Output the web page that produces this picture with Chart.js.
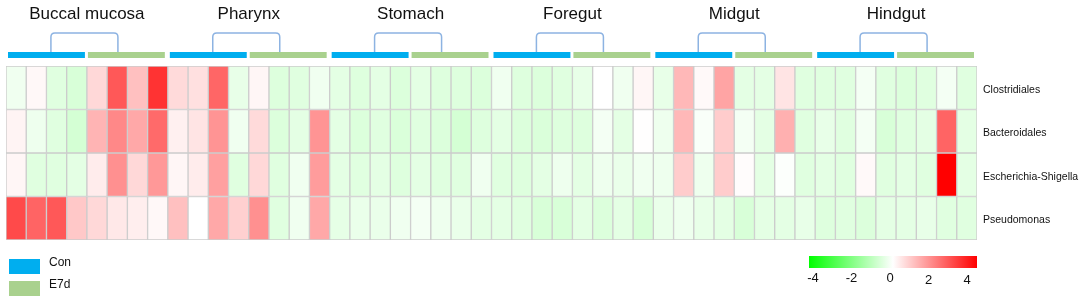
<!DOCTYPE html>
<html>
<head>
<meta charset="utf-8">
<script src="https://cdn.jsdelivr.net/npm/chart.js@4"></script>
<style>
  html, body { margin: 0; padding: 0; background: #fff; }
  #wrap { width: 1084px; height: 301px; }
</style>
</head>
<body>
<div id="wrap"><canvas id="heat"></canvas></div>
<script>
// sites, groups and taxa
const sites = ["Buccal mucosa", "Pharynx", "Stomach", "Foregut", "Midgut", "Hindgut"];
const groups = ["Con", "E7d"];
const reps = 4;
const taxa = ["Clostridiales", "Bacteroidales", "Escherichia-Shigella", "Pseudomonas"];

// z-scores, 48 columns each (6 sites x 2 groups x 4 samples)
const clostridiales = [
  -0.24, 0.11, -0.49, -0.61, 0.61, 2.62, 0.99, 3.2,
  0.58, 0.49, 2.4, -0.36, 0.14, -0.53, -0.49, -0.24,
  -0.42, -0.52, -0.42, -0.55, -0.42, -0.52, -0.52, -0.55,
  -0.24, -0.52, -0.55, -0.49, -0.36, 0.0, -0.24, 0.14,
  -0.36, 1.11, 0.1, 1.43, -0.42, -0.42, 0.42, -0.49,
  -0.49, -0.49, -0.17, -0.49, -0.55, -0.49, -0.17, -0.49
];
const bacteroidales = [
  0.17, -0.27, -0.49, -0.67, 1.18, 1.87, 1.36, 2.34,
  0.24, 0.42, 1.68, -0.24, 0.58, -0.55, -0.42, 1.68,
  -0.42, -0.55, -0.49, -0.58, -0.49, -0.55, -0.67, -0.52,
  -0.42, -0.55, -0.58, -0.52, -0.52, -0.17, -0.42, 0.02,
  -0.27, 1.11, -0.1, 0.8, -0.17, -0.42, 1.24, -0.49,
  -0.36, -0.49, -0.17, -0.61, -0.49, -0.42, 2.43, -0.42
];
const escherichia = [
  0.14, -0.49, -0.49, -0.42, 0.3, 1.74, 0.61, 1.62,
  0.14, 0.3, 1.49, -0.49, 0.61, -0.49, -0.24, 1.55,
  -0.42, -0.49, -0.42, -0.52, -0.42, -0.49, -0.49, -0.24,
  -0.49, -0.52, -0.42, -0.27, -0.42, -0.27, -0.33, -0.24,
  -0.27, 0.8, -0.27, 0.8, 0.05, -0.42, -0.05, -0.49,
  -0.42, -0.49, 0.1, -0.49, -0.42, -0.49, 4.0, -0.42
];
const pseudomonas = [
  2.84, 2.43, 2.62, 0.86, 0.61, 0.36, 0.27, 0.11,
  0.99, 0.0, 1.36, 0.74, 1.74, -0.49, -0.24, 1.36,
  -0.4, -0.33, -0.33, -0.24, -0.17, -0.27, -0.33, -0.42,
  -0.42, -0.49, -0.61, -0.61, -0.42, -0.55, -0.42, -0.61,
  -0.33, -0.27, -0.36, -0.42, -0.61, -0.42, -0.42, -0.36,
  -0.52, -0.49, -0.55, -0.42, -0.42, -0.36, -0.49, -0.49
];
const rows = [clostridiales, bacteroidales, escherichia, pseudomonas];

// colour scale
const scaleTicks = [-4, -2, 0, 2, 4];
const groupColors = ["#00aeef", "#a9d18e"];
const bracketColor = "#8db3e2";

function heatColor(v) {
  const t = Math.min(Math.abs(v) / 4, 1);
  const c = Math.round(255 * (1 - t));
  return v < 0 ? `rgb(${c},255,${c})` : `rgb(255,${c},${c})`;
}

// column labels: site / group / sample
const columns = [];
sites.forEach(s => groups.forEach(g => {
  for (let k = 1; k <= reps; k++) columns.push(s + " " + g + " " + k);
}));

const datasets = rows.map((vals, r) => ({
  label: taxa[r],
  data: vals.map(() => [r, r + 1]),
  backgroundColor: vals.map(heatColor),
  borderColor: "#cccccc",
  borderWidth: 1,
  borderSkipped: false,
  grouped: false,
  barPercentage: 1,
  categoryPercentage: 1
}));

// extras: site headers, group bars, brackets, legend, colour key
const decor = {
  id: "decor",
  afterDraw(chart) {
    const ctx = chart.ctx;
    const x = chart.scales.x;
    const colW = (x.right - x.left) / columns.length;
    const edge = i => x.getPixelForValue(i) - colW / 2;
    const per = groups.length * reps;

    ctx.save();
    sites.forEach((s, si) => {
      const i0 = si * per;
      const mid = edge(i0 + reps);
      // group bars
      ctx.fillStyle = groupColors[0];
      ctx.fillRect(edge(i0) + 2, 52, edge(i0 + reps) - edge(i0) - 4, 6);
      ctx.fillStyle = groupColors[1];
      ctx.fillRect(edge(i0 + reps) + 1, 52, edge(i0 + per) - edge(i0 + reps) - 4, 6);
      // bracket
      const l = mid - 36, rr = mid + 31, top = 33;
      ctx.strokeStyle = bracketColor;
      ctx.lineWidth = 1.5;
      ctx.beginPath();
      ctx.moveTo(l, 52);
      ctx.lineTo(l, top + 4);
      ctx.quadraticCurveTo(l, top, l + 4, top);
      ctx.lineTo(rr - 4, top);
      ctx.quadraticCurveTo(rr, top, rr, top + 4);
      ctx.lineTo(rr, 52);
      ctx.stroke();
      // site name
      ctx.fillStyle = "#111";
      ctx.font = "17px 'Liberation Sans', Arial, sans-serif";
      ctx.textAlign = "center";
      ctx.textBaseline = "middle";
      ctx.fillText(s, mid, 14);
    });

    // group legend
    ctx.font = "12px 'Liberation Sans', Arial, sans-serif";
    ctx.textAlign = "left";
    groups.forEach((g, gi) => {
      const y = 259 + gi * 22;
      ctx.fillStyle = groupColors[gi];
      ctx.fillRect(9, y, 31, 15);
      ctx.fillStyle = "#111";
      ctx.fillText(g, 49, y + 4);
    });

    // colour key
    const kx0 = 809, kx1 = 977;
    const grad = ctx.createLinearGradient(kx0, 0, kx1, 0);
    scaleTicks.forEach((v, i) => grad.addColorStop(i / (scaleTicks.length - 1), heatColor(v)));
    ctx.fillStyle = grad;
    ctx.fillRect(kx0, 256, kx1 - kx0, 12);
    const tx = v => 890 + v * 19.25;
    ctx.fillStyle = "#111";
    ctx.font = "13px 'Liberation Sans', Arial, sans-serif";
    ctx.textAlign = "center";
    scaleTicks.forEach(v => ctx.fillText(String(v), tx(v), v > 0 ? 280 : 278));
    ctx.restore();
  }
};

new Chart(document.getElementById("heat"), {
  type: "bar",
  data: { labels: columns, datasets: datasets },
  options: {
    responsive: true,
    maintainAspectRatio: false,
    animation: false,
    layout: { padding: { left: 6, right: 0, top: 66, bottom: 61 } },
    plugins: { legend: { display: false }, tooltip: { enabled: false } },
    scales: {
      x: { type: "category", display: false, offset: true },
      y: {
        type: "linear",
        position: "right",
        reverse: true,
        min: 0,
        max: taxa.length,
        grid: { display: false, drawTicks: false },
        border: { display: false },
        afterBuildTicks: s => { s.ticks = taxa.map((t, i) => ({ value: i + 0.55 })); },
        afterFit: s => { s.width = 107; },
        ticks: {
          padding: 6,
          color: "#111",
          font: { family: "'Liberation Sans', Arial, sans-serif", size: 10.5 },
          callback: (v, i) => taxa[i]
        }
      }
    }
  },
  plugins: [decor]
});
</script>
</body>
</html>
